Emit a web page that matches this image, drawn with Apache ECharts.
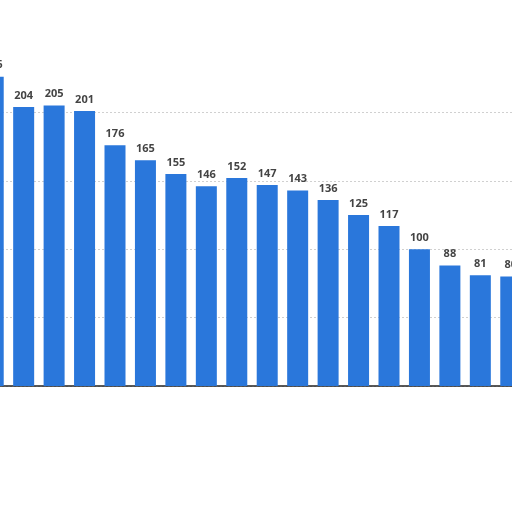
<!DOCTYPE html>
<html>
<head>
<meta charset="utf-8">
<script src="https://cdn.jsdelivr.net/npm/echarts@6/dist/echarts.min.js"></script>
<style>
html,body{margin:0;padding:0;background:#fff;overflow:hidden;width:512px;height:512px;}
#chart{position:absolute;left:-22.2px;top:0;width:548px;height:512px;}
</style>
</head>
<body>
<div id="chart"></div>
<script>
var categories = ['C0','C1','C2','C3','C4','C5','C6','C7','C8','C9','C10','C11','C12','C13','C14','C15','C16','C17'];
var values = [226, 204, 205, 201, 176, 165, 155, 146, 152, 147, 143, 136, 125, 117, 100, 88, 81, 80];
var yTicks = [0, 50, 100, 150, 200, 250];

var gridColors = yTicks.map(function (t, i) { return i === yTicks.length - 1 ? 'rgba(0,0,0,0)' : '#d0d0d0'; });

var chart = echarts.init(document.getElementById('chart'));
chart.setOption({
  animation: false,
  backgroundColor: '#ffffff',
  grid: { left: 0, right: 0, top: 44, bottom: 126, containLabel: false },
  xAxis: {
    type: 'category',
    data: categories,
    axisLine: { show: true, lineStyle: { color: '#222', width: 1.5 } },
    axisTick: { show: false },
    axisLabel: { show: false }
  },
  yAxis: {
    type: 'value',
    min: yTicks[0],
    max: yTicks[yTicks.length - 1],
    interval: 50,
    axisLine: { show: false },
    axisTick: { show: false },
    axisLabel: { show: false },
    splitLine: { show: true, lineStyle: { color: gridColors, type: [2, 2], width: 1 } }
  },
  series: [{
    type: 'bar',
    data: values,
    barWidth: 21,
    itemStyle: { color: '#2a77db' },
    label: {
      show: true,
      position: 'top',
      distance: 6,
      color: '#444444',
      fontFamily: 'Open Sans',
      fontWeight: 'bold',
      fontSize: 11
    }
  }]
});
</script>
</body>
</html>
